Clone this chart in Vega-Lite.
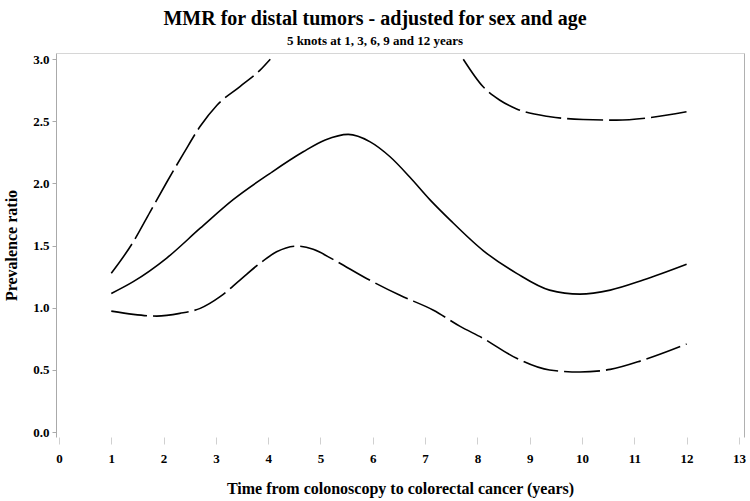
{
  "$schema": "https://vega.github.io/schema/vega-lite/v6.json",
  "width": 688,
  "height": 384,
  "autosize": {"type": "none"},
  "padding": {"left": 56, "top": 53, "right": 6, "bottom": 64},
  "background": "white",
  "config": {"view": {"stroke": null}, "font": "Liberation Serif"},
  "title": {
    "text": "MMR for distal tumors - adjusted for sex and age",
    "subtitle": "5 knots at 1, 3, 6, 9 and 12 years",
    "font": "Liberation Serif",
    "fontSize": 20,
    "fontWeight": "bold",
    "color": "black",
    "subtitleFont": "Liberation Serif",
    "subtitleFontSize": 13,
    "subtitleFontWeight": "bold",
    "subtitleColor": "black",
    "subtitlePadding": 6,
    "anchor": "middle",
    "dx": -25,
    "offset": 5
  },
  "datasets": {
    "solid": [
      {"x": 1.0, "y": 1.115}, {"x": 1.42, "y": 1.21}, {"x": 2.06, "y": 1.4}, {"x": 2.7, "y": 1.64},
      {"x": 3.33, "y": 1.87}, {"x": 4.03, "y": 2.08}, {"x": 4.67, "y": 2.255}, {"x": 5.09, "y": 2.35},
      {"x": 5.53, "y": 2.395}, {"x": 5.95, "y": 2.335}, {"x": 6.33, "y": 2.215}, {"x": 6.71, "y": 2.05},
      {"x": 7.09, "y": 1.87}, {"x": 7.48, "y": 1.705}, {"x": 8.11, "y": 1.46}, {"x": 8.75, "y": 1.277},
      {"x": 9.38, "y": 1.142}, {"x": 9.96, "y": 1.11}, {"x": 10.54, "y": 1.142}, {"x": 11.17, "y": 1.223},
      {"x": 12.0, "y": 1.35}
    ],
    "lower": [
      {"x": 1.0, "y": 0.973}, {"x": 1.42, "y": 0.947}, {"x": 1.87, "y": 0.933}, {"x": 2.31, "y": 0.955},
      {"x": 2.7, "y": 0.995}, {"x": 3.08, "y": 1.089}, {"x": 3.46, "y": 1.223}, {"x": 3.84, "y": 1.357},
      {"x": 4.16, "y": 1.45}, {"x": 4.54, "y": 1.496}, {"x": 4.86, "y": 1.47}, {"x": 5.24, "y": 1.389},
      {"x": 5.88, "y": 1.236}, {"x": 6.52, "y": 1.1}, {"x": 7.16, "y": 0.98}, {"x": 7.67, "y": 0.85},
      {"x": 8.11, "y": 0.754}, {"x": 8.75, "y": 0.593}, {"x": 9.38, "y": 0.499}, {"x": 9.96, "y": 0.483},
      {"x": 10.54, "y": 0.504}, {"x": 11.17, "y": 0.579}, {"x": 12.0, "y": 0.708}
    ],
    "upper": [
      {"seg": "a", "x": 1.0, "y": 1.277}, {"seg": "a", "x": 1.42, "y": 1.53}, {"seg": "a", "x": 1.74, "y": 1.77},
      {"seg": "a", "x": 2.06, "y": 2.01}, {"seg": "a", "x": 2.38, "y": 2.24}, {"seg": "a", "x": 2.7, "y": 2.46},
      {"seg": "a", "x": 3.02, "y": 2.63}, {"seg": "a", "x": 3.46, "y": 2.78}, {"seg": "a", "x": 3.84, "y": 2.91},
      {"seg": "a", "x": 4.04, "y": 3.0},
      {"seg": "b", "x": 7.73, "y": 3.0}, {"seg": "b", "x": 8.11, "y": 2.778}, {"seg": "b", "x": 8.43, "y": 2.67},
      {"seg": "b", "x": 8.75, "y": 2.6}, {"seg": "b", "x": 9.39, "y": 2.537}, {"seg": "b", "x": 10.02, "y": 2.515},
      {"seg": "b", "x": 10.66, "y": 2.51}, {"seg": "b", "x": 11.3, "y": 2.53}, {"seg": "b", "x": 12.0, "y": 2.577}
    ]
  },
  "resolve": {"axis": {"x": "independent", "y": "independent"}},
  "layer": [
    {
      "data": {"name": "solid"},
      "mark": {"type": "line", "color": "black", "strokeWidth": 1.6, "interpolate": "monotone", "clip": true},
      "encoding": {
        "x": {
          "field": "x", "type": "quantitative",
          "scale": {"domain": [-0.057, 13.097], "nice": false, "zero": false},
          "axis": {
            "orient": "bottom", "values": [0,1,2,3,4,5,6,7,8,9,10,11,12,13], "format": "d",
            "domain": false, "ticks": true, "tickColor": "#d0d0d0", "tickSize": 7, "tickOffset": 0,
            "labelFont": "Liberation Serif", "labelFontSize": 13, "labelFontWeight": "bold", "labelColor": "black",
            "labelPadding": 8, "grid": false,
            "title": "Time from colonoscopy to colorectal cancer (years)",
            "titleFont": "Liberation Serif", "titleFontSize": 16, "titleFontWeight": "bold", "titleColor": "black",
            "titlePadding": 15
          }
        },
        "y": {
          "field": "y", "type": "quantitative",
          "scale": {"domain": [-0.04, 3.05], "nice": false, "zero": false},
          "axis": {
            "orient": "left", "values": [0,0.5,1,1.5,2,2.5,3], "format": ".1f",
            "domain": true, "domainColor": "#aaaaaa", "ticks": true, "tickColor": "#aaaaaa", "tickSize": 4,
            "labelFont": "Liberation Serif", "labelFontSize": 13, "labelFontWeight": "bold", "labelColor": "black",
            "labelPadding": 3, "grid": false,
            "title": "Prevalence ratio",
            "titleFont": "Liberation Serif", "titleFontSize": 16, "titleFontWeight": "bold", "titleColor": "black",
            "titlePadding": 13
          }
        }
      }
    },
    {
      "data": {"name": "lower"},
      "mark": {"type": "line", "color": "black", "strokeWidth": 1.6, "interpolate": "monotone", "strokeDash": [36, 6], "clip": true},
      "encoding": {
        "x": {"field": "x", "type": "quantitative", "axis": null},
        "y": {"field": "y", "type": "quantitative", "axis": null}
      }
    },
    {
      "data": {"name": "upper"},
      "mark": {"type": "line", "color": "black", "strokeWidth": 1.6, "interpolate": "monotone", "strokeDash": [36, 6], "clip": true},
      "encoding": {
        "x": {"field": "x", "type": "quantitative", "axis": null},
        "y": {"field": "y", "type": "quantitative", "axis": null},
        "detail": {"field": "seg"}
      }
    },
    {
      "data": {"name": "solid"},
      "mark": {"type": "point", "opacity": 0},
      "encoding": {
        "x": {"field": "x", "type": "quantitative",
          "axis": {"orient": "top", "domain": true, "domainColor": "#d6d6d6", "ticks": false, "labels": false, "title": null, "grid": false}},
        "y": {"field": "y", "type": "quantitative",
          "axis": {"orient": "right", "domain": true, "domainColor": "#b0b0b0", "ticks": false, "labels": false, "title": null, "grid": false}}
      }
    }
  ]
}
